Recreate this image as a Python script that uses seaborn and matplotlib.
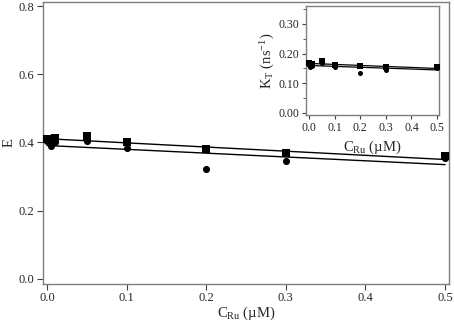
import matplotlib
matplotlib.use("Agg")
import matplotlib.pyplot as plt
import matplotlib.ticker as mtick
import pandas as pd
import seaborn as sns

# concentrations (uM)
conc = [0.0, 0.005, 0.01, 0.05, 0.1, 0.2, 0.3, 0.5]

# FRET efficiency E
e_square = [0.410, 0.410, 0.412, 0.420, 0.400, 0.380, 0.368, 0.360]
e_circle = [0.405, 0.390, 0.400, 0.405, 0.385, 0.322, 0.345, 0.355]

# energy transfer rate K_T (ns^-1)
k_square = [0.168, 0.166, 0.166, 0.175, 0.162, 0.157, 0.155, 0.155]
k_circle = [0.160, 0.155, 0.158, 0.170, 0.155, 0.133, 0.145, 0.153]

# fitted lines, values at the ends of the range
fit_x = [0.0, 0.5]
e_fit_upper = [0.411, 0.350]
e_fit_lower = [0.391, 0.335]
k_fit_upper = [0.167, 0.150]
k_fit_lower = [0.160, 0.145]

sns.set_style("ticks")
plt.rcParams["font.family"] = ["Liberation Serif", "DejaVu Serif"]
plt.rcParams["mathtext.fontset"] = "custom"
plt.rcParams["mathtext.rm"] = "Liberation Serif"
plt.rcParams["mathtext.it"] = "Liberation Serif:italic"

spine_col = "#7f7f7f"

df = pd.DataFrame({"c": conc, "es": e_square, "ec": e_circle,
                   "ks": k_square, "kc": k_circle})
fits = pd.DataFrame({"x": fit_x, "eu": e_fit_upper, "el": e_fit_lower,
                     "ku": k_fit_upper, "kl": k_fit_lower})

fig = plt.figure(figsize=(4.54, 3.24), dpi=100)
ax = fig.add_axes([0.0947, 0.1235, 0.8943, 0.8705])

sns.lineplot(data=fits, x="x", y="eu", ax=ax, color="black", lw=1.0)
sns.lineplot(data=fits, x="x", y="el", ax=ax, color="black", lw=1.0)
sns.scatterplot(data=df, x="c", y="es", ax=ax, marker="s", color="black",
                s=30, linewidth=0, zorder=3)
sns.scatterplot(data=df, x="c", y="ec", ax=ax, marker="o", color="black",
                s=26, linewidth=0, zorder=3)

ax.set_xlim(-0.005, 0.505)
ax.set_ylim(-0.015, 0.812)
ax.set_xticks([0.0, 0.1, 0.2, 0.3, 0.4, 0.5])
ax.set_yticks([0.0, 0.2, 0.4, 0.6, 0.8])
ax.xaxis.set_major_formatter(mtick.FormatStrFormatter("%.1f"))
ax.yaxis.set_major_formatter(mtick.FormatStrFormatter("%.1f"))
ax.set_xlabel(r"C$_{\mathrm{Ru}}$ (µM)", fontsize=10.5)
ax.set_ylabel("E", fontsize=10.5)
ax.xaxis.set_label_coords(0.5, -0.075)
ax.yaxis.set_label_coords(-0.068, 0.5)
ax.tick_params(labelsize=9, length=4, width=0.8, color="#404040", pad=2)
for s in ax.spines.values():
    s.set_visible(True)
    s.set_color(spine_col)
    s.set_linewidth(1.0)

# inset
ins = fig.add_axes([0.674, 0.645, 0.293, 0.336])
sns.lineplot(data=fits, x="x", y="ku", ax=ins, color="black", lw=0.9)
sns.lineplot(data=fits, x="x", y="kl", ax=ins, color="black", lw=0.9)
sns.scatterplot(data=df, x="c", y="ks", ax=ins, marker="s", color="black",
                s=16, linewidth=0, zorder=3)
sns.scatterplot(data=df, x="c", y="kc", ax=ins, marker="o", color="black",
                s=13, linewidth=0, zorder=3)
ins.set_xlim(-0.012, 0.508)
ins.set_ylim(-0.007, 0.36)
ins.set_xticks([0.0, 0.1, 0.2, 0.3, 0.4, 0.5])
ins.set_yticks([0.0, 0.1, 0.2, 0.3])
ins.yaxis.set_minor_locator(mtick.MultipleLocator(0.05))
ins.xaxis.set_major_formatter(mtick.FormatStrFormatter("%.1f"))
ins.yaxis.set_major_formatter(mtick.FormatStrFormatter("%.2f"))
ins.set_xlabel(r"C$_{\mathrm{Ru}}$ (µM)", fontsize=10.5)
ins.set_ylabel(r"K$_{\mathrm{T}}$ (ns$^{\mathrm{-1}}$)", fontsize=10.5)
ins.xaxis.set_label_coords(0.5, -0.22)
ins.yaxis.set_label_coords(-0.22, 0.5)
ins.tick_params(labelsize=8.5, length=3, width=0.8, color="#404040", pad=2)
ins.tick_params(which="minor", length=2, width=0.6, color="#404040")
for s in ins.spines.values():
    s.set_visible(True)
    s.set_color(spine_col)
    s.set_linewidth(1.0)

fig.savefig("out.png", dpi=100)
